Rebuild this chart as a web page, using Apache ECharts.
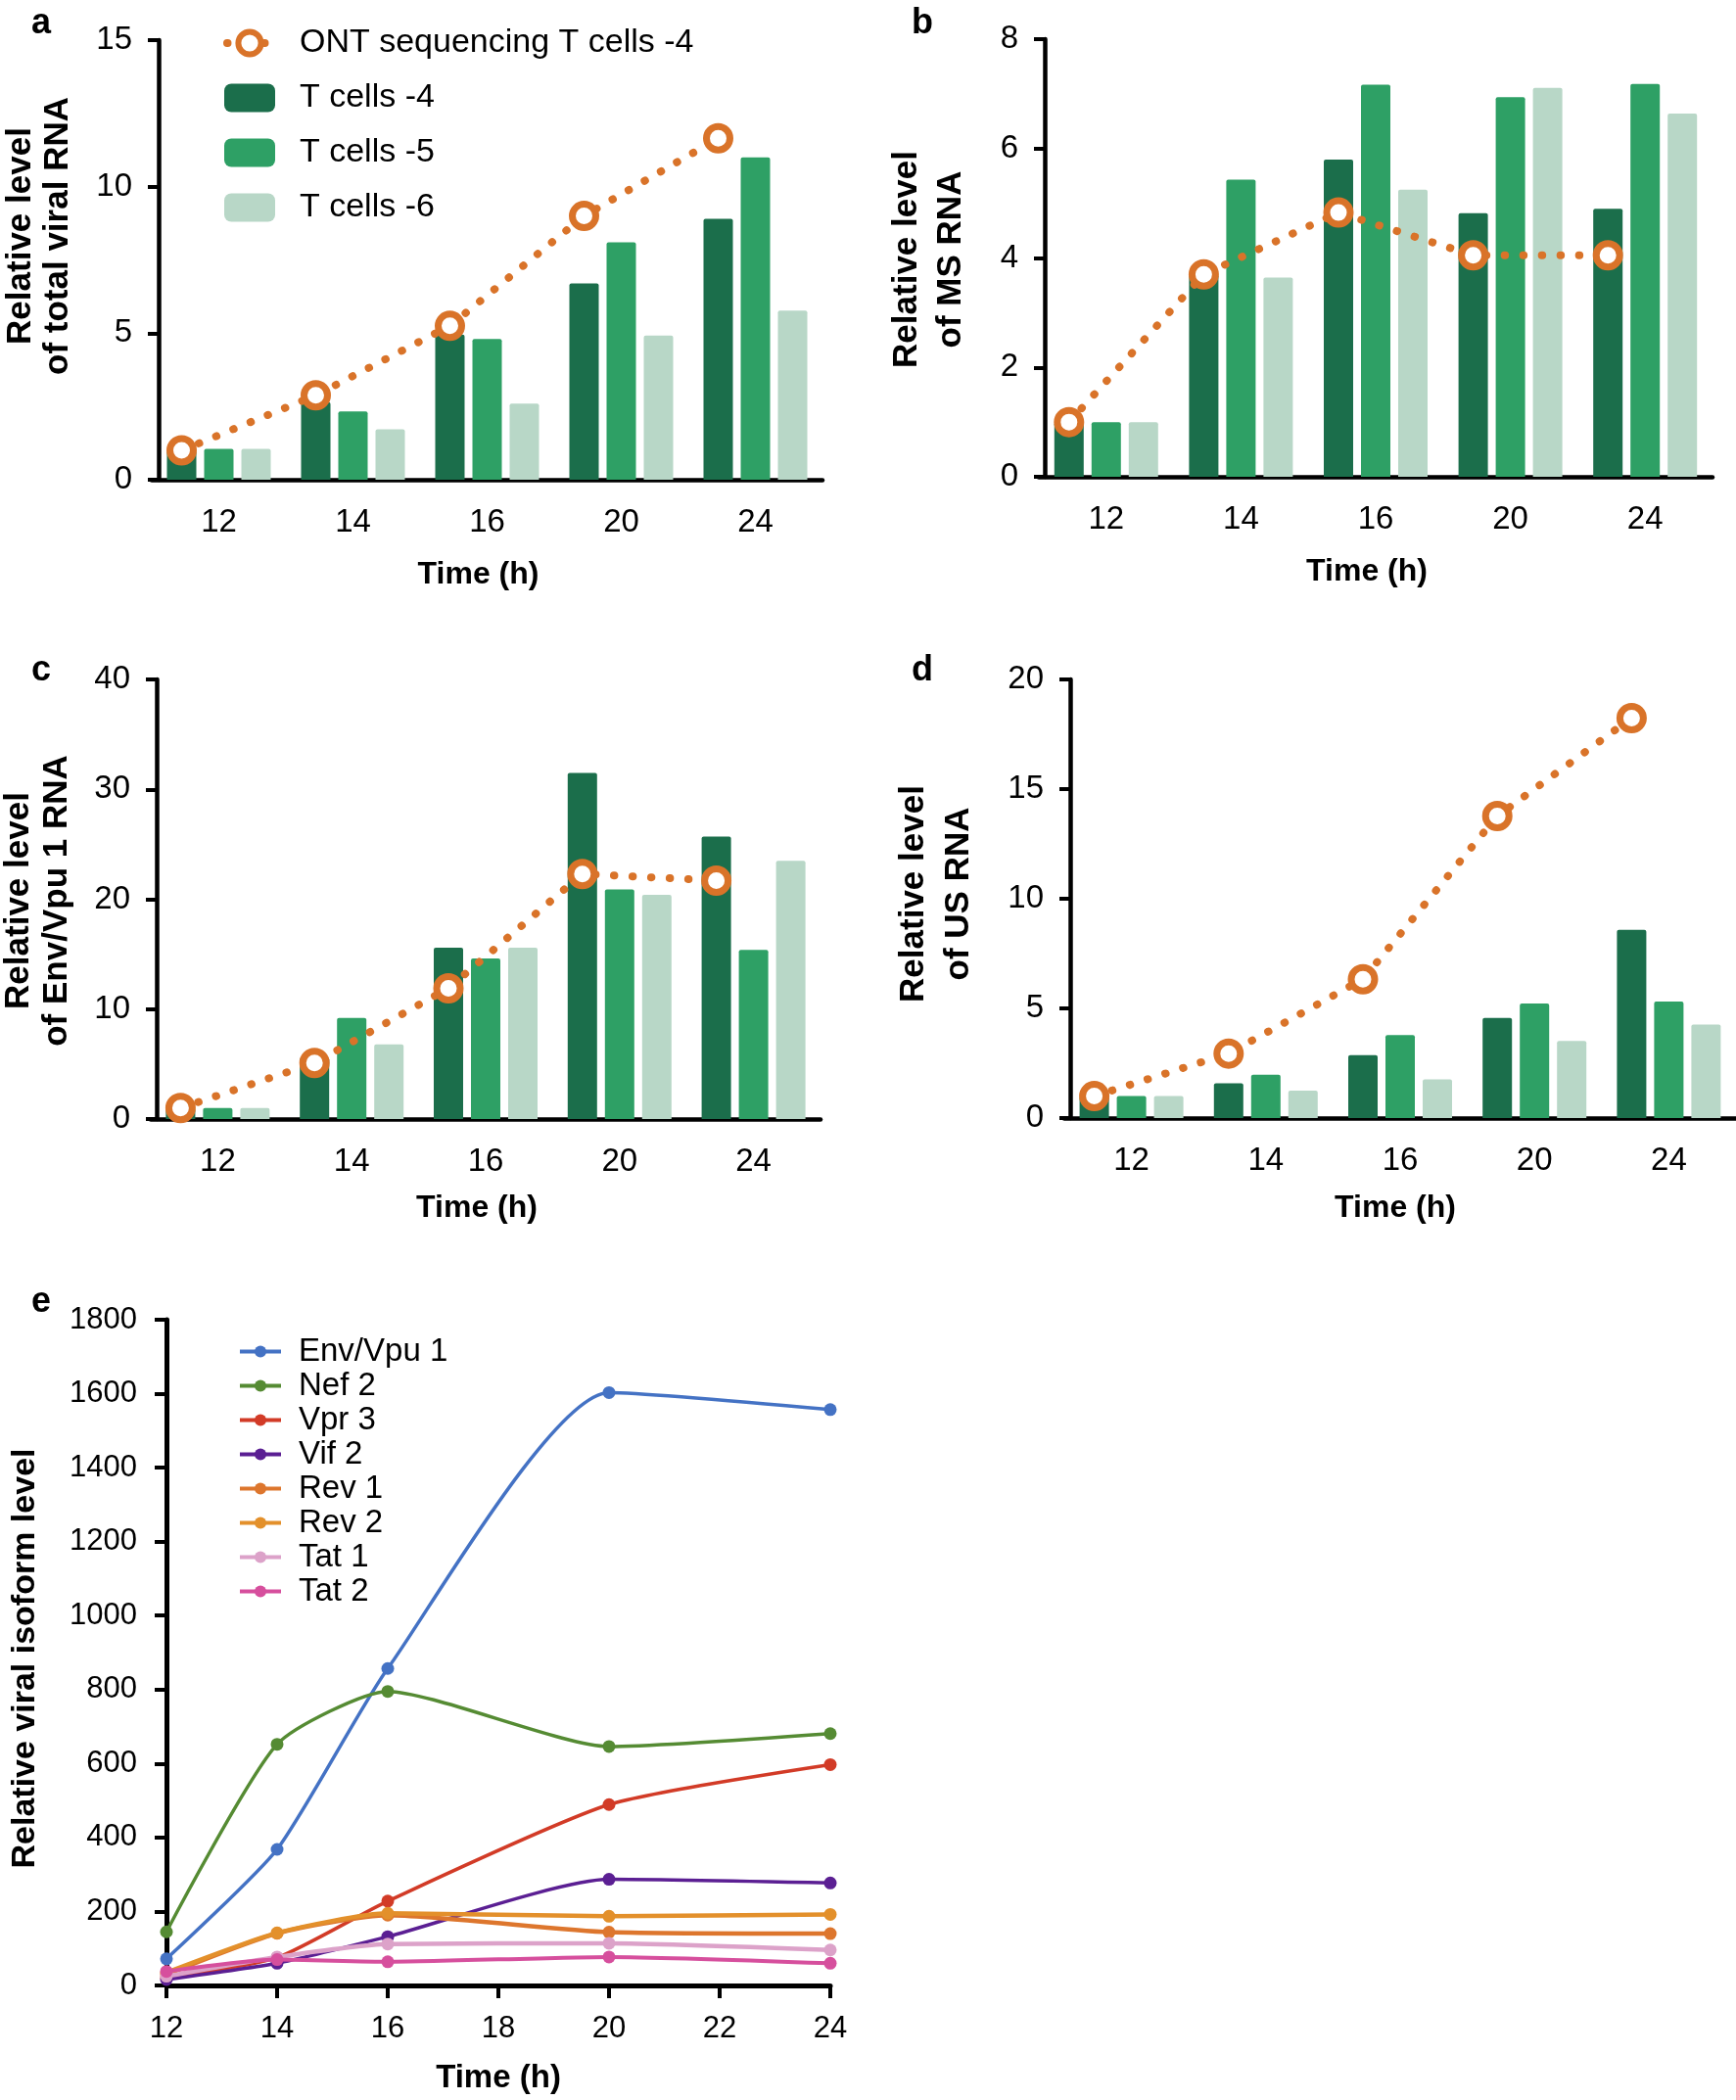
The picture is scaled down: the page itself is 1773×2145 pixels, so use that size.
<!DOCTYPE html>
<html><head><meta charset="utf-8">
<script src="https://cdn.jsdelivr.net/npm/echarts@6/dist/echarts.min.js"></script>
<style>html,body{margin:0;padding:0;background:#fff}#chart{width:1773px;height:2145px}</style>
</head><body><div id="chart"></div>
<script>
// ---------- data ----------
const timePoints = ['12', '14', '16', '20', '24'];
const timeHours = [12, 14, 16, 20, 24];
const seriesNames = ['ONT sequencing T cells -4', 'T cells -4', 'T cells -5', 'T cells -6'];

// panel a: total viral RNA
const totalT4 = [1.0, 2.65, 4.95, 6.7, 8.9];
const totalT5 = [1.05, 2.33, 4.8, 8.1, 11.0];
const totalT6 = [1.05, 1.72, 2.6, 4.92, 5.77];
const totalONT = [1.0, 2.88, 5.25, 9.0, 11.65];
// panel b: MS RNA
const msT4 = [1.0, 3.7, 5.8, 4.82, 4.9];
const msT5 = [1.0, 5.43, 7.17, 6.94, 7.18];
const msT6 = [1.0, 3.64, 5.25, 7.11, 6.64];
const msONT = [1.0, 3.7, 4.83, 4.05, 4.05];
// panel c: Env/Vpu 1 RNA
const envT4 = [1.0, 5.6, 15.6, 31.5, 25.7];
const envT5 = [1.0, 9.2, 14.6, 20.9, 15.4];
const envT6 = [1.0, 6.8, 15.6, 20.4, 23.5];
const envONT = [1.0, 5.1, 11.9, 22.3, 21.7];
// panel d: US RNA
const usT4 = [1.0, 1.58, 2.87, 4.56, 8.58];
const usT5 = [1.0, 1.97, 3.78, 5.22, 5.31];
const usT6 = [1.0, 1.25, 1.76, 3.52, 4.26];
const usONT = [1.0, 2.94, 6.33, 13.77, 18.24];
// panel e: isoforms
const isoNames = ['Env/Vpu 1', 'Nef 2', 'Vpr 3', 'Vif 2', 'Rev 1', 'Rev 2', 'Tat 1', 'Tat 2'];
const isoEnvVpu1 = [72, 368, 857, 1603, 1557];
const isoNef2 = [145, 652, 795, 646, 681];
const isoVpr3 = [20, 75, 228, 489, 597];
const isoVif2 = [16, 60, 132, 287, 277];
const isoRev1 = [30, 141, 190, 144, 140];
const isoRev2 = [35, 142, 195, 187, 192];
const isoTat1 = [25, 77, 112, 114, 96];
const isoTat2 = [38, 70, 64, 77, 60];

// ---------- styles ----------
const FONT = "'Liberation Sans', Arial, Helvetica, sans-serif";
const barColors = ['#1b6e4b', '#2ea065', '#b8d7c7'];
const ontColor = '#d97329';
const isoColors = ['#4472c4', '#558b33', '#d23b27', '#5b1f93', '#dd762d', '#e3902b', '#dca2c9', '#d64f9d'];
const isoWidths = [3.5, 3.5, 3.5, 3.5, 4.5, 4.5, 4.5, 4];
const BAR_W = 30, BAR_GAP = 8;
const ontLine = {color: ontColor, width: 8, type: [0.5, 18.5], cap: 'round'};

const grids = [], xAxes = [], yAxes = [], series = [], graphics = [];

function barPanel(p) {
  const gi = grids.length;
  grids.push({left: p.left, top: p.top, width: p.width, height: p.height, containLabel: false});
  const catIdx = xAxes.length;
  xAxes.push({
    type: 'category', gridIndex: gi, data: timePoints,
    axisLine: {onZero: false, lineStyle: {color: '#000', width: 4.5}},
    axisTick: {alignWithLabel: true, length: 13, lineStyle: {color: '#000', width: 4}},
    axisLabel: {fontSize: 33, color: '#000', margin: 27, fontFamily: FONT},
    name: 'Time (h)', nameLocation: 'middle', nameGap: p.nameGap,
    nameTextStyle: {fontSize: 32, fontWeight: 'bold', color: '#000', fontFamily: FONT,
      padding: [0, p.nameShift, 0, 0]}
  });
  const valIdx = xAxes.length;
  xAxes.push({type: 'value', gridIndex: gi, min: -0.5, max: timePoints.length - 0.5, show: false,
    axisLine: {onZero: false}});
  const yIdx = yAxes.length;
  yAxes.push({
    type: 'value', gridIndex: gi, min: 0, max: p.yMax, interval: p.yInt, offset: p.yOffset,
    axisLine: {show: true, onZero: false, lineStyle: {color: '#000', width: 4.5}},
    axisTick: {show: true, length: 11, lineStyle: {color: '#000', width: 4}},
    splitLine: {show: false},
    axisLabel: {fontSize: 33, color: '#000', margin: 27, fontFamily: FONT}
  });
  const bars = [p.t4, p.t5, p.t6];
  bars.forEach((d, k) => {
    series.push({
      type: 'bar', name: seriesNames[k + 1], xAxisIndex: catIdx, yAxisIndex: yIdx,
      data: d, barWidth: BAR_W, barGap: (BAR_GAP / BAR_W * 100) + '%',
      itemStyle: {color: barColors[k], borderRadius: [2, 2, 0, 0]}, z: 2
    });
  });
  const band = p.width / timePoints.length;
  const shift = -(BAR_W + BAR_GAP) / band;
  series.push({
    type: 'line', name: seriesNames[0], xAxisIndex: valIdx, yAxisIndex: yIdx,
    data: p.ont.map((v, i) => [i + shift, v]),
    symbol: 'circle', symbolSize: 24,
    itemStyle: {color: '#fff', borderColor: ontColor, borderWidth: 7},
    lineStyle: ontLine,
    z: 5
  });
  graphics.push({type: 'text', x: p.letterX, y: p.letterY,
    style: {text: p.letter, font: 'bold 36px ' + FONT, fill: '#000', align: 'center', verticalAlign: 'middle'}});
  p.titles.forEach(t => {
    graphics.push({type: 'text', x: t[1], y: p.titleY, rotation: Math.PI / 2,
      style: {text: t[0], font: 'bold 35px ' + FONT, fill: '#000', align: 'center', verticalAlign: 'middle'}});
  });
}

barPanel({left: 155, top: 41, width: 685, height: 449, yMax: 15, yInt: 5, yOffset: -7, nameGap: 81, nameShift: 18,
  t4: totalT4, t5: totalT5, t6: totalT6, ont: totalONT,
  letter: 'a', letterX: 42, letterY: 24, titleY: 241,
  titles: [['Relative level', 21], ['of total viral RNA', 59]]});
barPanel({left: 1061, top: 40, width: 688, height: 447, yMax: 8, yInt: 2, yOffset: -6, nameGap: 81, nameShift: 18,
  t4: msT4, t5: msT5, t6: msT6, ont: msONT,
  letter: 'b', letterX: 942, letterY: 24, titleY: 265,
  titles: [['Relative level', 926], ['of MS RNA', 971]]});
barPanel({left: 154, top: 694, width: 684, height: 449, yMax: 40, yInt: 10, yOffset: -6, nameGap: 75, nameShift: 18,
  t4: envT4, t5: envT5, t6: envT6, ont: envONT,
  letter: 'c', letterX: 42, letterY: 685, titleY: 920,
  titles: [['Relative level', 19], ['of Env/Vpu 1 RNA', 58]]});
barPanel({left: 1087, top: 694, width: 686, height: 448, yMax: 20, yInt: 5, yOffset: -6, nameGap: 76, nameShift: 10,
  t4: usT4, t5: usT5, t6: usT6, ont: usONT,
  letter: 'd', letterX: 942, letterY: 685, titleY: 913,
  titles: [['Relative level', 933], ['of US RNA', 979]]});

// panel e
const eGrid = grids.length;
grids.push({left: 170, top: 1348, width: 678, height: 680, containLabel: false});
const eX = xAxes.length;
xAxes.push({
  type: 'value', gridIndex: eGrid, min: 12, max: 24, interval: 2,
  axisLine: {show: true, onZero: false, lineStyle: {color: '#000', width: 5}},
  axisTick: {show: true, length: 13, lineStyle: {color: '#000', width: 4}},
  splitLine: {show: false},
  axisLabel: {fontSize: 31, color: '#000', margin: 29, fontFamily: FONT},
  name: 'Time (h)', nameLocation: 'middle', nameGap: 78,
  nameTextStyle: {fontSize: 33, fontWeight: 'bold', color: '#000', fontFamily: FONT}
});
const eY = yAxes.length;
yAxes.push({
  type: 'value', gridIndex: eGrid, min: 0, max: 1800, interval: 200,
  axisLine: {show: true, onZero: false, lineStyle: {color: '#000', width: 5}},
  axisTick: {show: true, length: 12, lineStyle: {color: '#000', width: 4}},
  splitLine: {show: false},
  axisLabel: {fontSize: 31, color: '#000', margin: 30, fontFamily: FONT, formatter: v => String(v)}
});
const isoData = [isoEnvVpu1, isoNef2, isoVpr3, isoVif2, isoRev1, isoRev2, isoTat1, isoTat2];
isoData.forEach((d, k) => {
  series.push({
    type: 'line', name: isoNames[k], xAxisIndex: eX, yAxisIndex: eY,
    data: d.map((v, i) => [timeHours[i], v]),
    smooth: 0.2, symbol: 'circle', symbolSize: 13,
    itemStyle: {color: isoColors[k]},
    lineStyle: {color: isoColors[k], width: isoWidths[k]},
    z: 3 + k * 0.1
  });
});
graphics.push({type: 'text', x: 42, y: 1330,
  style: {text: 'e', font: 'bold 36px ' + FONT, fill: '#000', align: 'center', verticalAlign: 'middle'}});
graphics.push({type: 'text', x: 26, y: 1694, rotation: Math.PI / 2,
  style: {text: 'Relative viral isoform level', font: 'bold 34px ' + FONT, fill: '#000', align: 'center', verticalAlign: 'middle'}});

const legendA = seriesNames.map((n, i) => i === 0 ? {
  name: n,
  itemStyle: {color: '#fff', borderColor: ontColor, borderWidth: 6},
  lineStyle: Object.assign({}, ontLine, {dashOffset: -3})
} : {name: n});
const legendE = isoNames.map((n, k) => ({name: n, lineStyle: {width: 4}}));

const chart = echarts.init(document.getElementById('chart'), null, {renderer: 'canvas'});
chart.setOption({
  backgroundColor: '#fff',
  animation: false,
  textStyle: {fontFamily: FONT},
  grid: grids,
  xAxis: xAxes,
  yAxis: yAxes,
  legend: [
    {orient: 'vertical', left: 225, top: 27, padding: 0, itemWidth: 52, itemHeight: 29, itemGap: 22,
     selectedMode: false, data: legendA,
     textStyle: {fontSize: 34, color: '#000', fontFamily: FONT, padding: [0, 0, 0, 20]}},
    {orient: 'vertical', left: 243, top: 1364, padding: 0, itemWidth: 42, itemHeight: 15, itemGap: 2,
     selectedMode: false, data: legendE,
     textStyle: {fontSize: 33, color: '#000', fontFamily: FONT, padding: [0, 0, 0, 13]}}
  ],
  graphic: graphics,
  series: series
});
</script></body></html>
